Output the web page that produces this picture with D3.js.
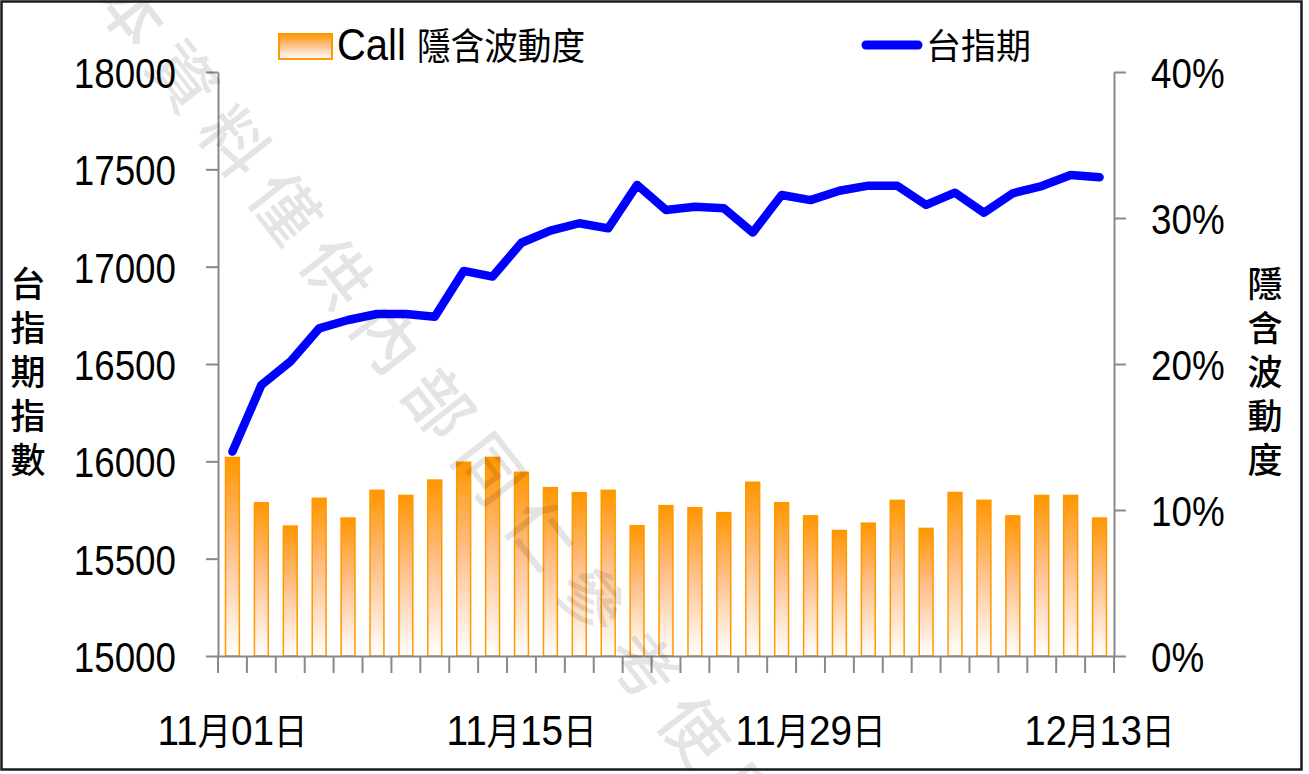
<!DOCTYPE html>
<html>
<head>
<meta charset="utf-8">
<script src="https://cdn.jsdelivr.net/npm/d3@7"></script>
<style>
  html, body { margin: 0; padding: 0; background: #fff; }
  svg { display: block; }
</style>
</head>
<body>
<div id="chart"></div>
<script>
// trading days, 2023-11-01 .. 2023-12-13
const dates = [
    "11月01日", "11月02日", "11月03日", "11月06日", "11月07日", "11月08日", "11月09日", "11月10日",
    "11月13日", "11月14日", "11月15日", "11月16日", "11月17日", "11月20日", "11月21日", "11月22日",
    "11月23日", "11月24日", "11月27日", "11月28日", "11月29日", "11月30日", "12月01日", "12月04日",
    "12月05日", "12月06日", "12月07日", "12月08日", "12月11日", "12月12日", "12月13日"
];
const shownDates = ["11月01日", "11月15日", "11月29日", "12月13日"];

// 台指期 (left axis)
const futures = [
    16050, 16392, 16512, 16683, 16726, 16757, 16757, 16743, 16978, 16949, 17123,
    17185, 17223, 17197, 17420, 17291, 17308, 17300, 17175, 17368, 17342,
    17390, 17416, 17416, 17317, 17380, 17277, 17377, 17414, 17471, 17459
];

// Call 隱含波動度 in % (right axis)
const callIV = [
    13.6, 10.5, 8.9, 10.8, 9.45, 11.35, 11.0, 12.05, 13.27, 13.6, 12.58,
    11.53, 11.19, 11.35, 8.92, 10.3, 10.16, 9.82, 11.9, 10.5, 9.6,
    8.6, 9.1, 10.66, 8.74, 11.2, 10.66, 9.6, 11.0, 11.0, 9.45
];

const leftTicks = [15000, 15500, 16000, 16500, 17000, 17500, 18000];
const rightTicks = [0, 10, 20, 30, 40];

const width = 1309;
const height = 774;
const marginLeft = 218;
const marginRight = 195;
const marginTop = 72;
const marginBottom = 118;

const LATIN = "'Liberation Sans Narrow', 'Liberation Sans', sans-serif";
const CJK = "'Noto Sans CJK TC', 'Noto Sans CJK SC', sans-serif";
const axisColor = "#898989";
const barColor = "#ff9900";
const lineColor = "#0000ff";
const squeeze = 0.855; // the original digits are narrower than Liberation Sans

const svg = d3.select("#chart")
    .append("svg")
    .attr("width", width)
    .attr("height", height)
    .attr("viewBox", [0, 0, width, height]);

const defs = svg.append("defs");
const grad = defs.append("linearGradient")
    .attr("id", "barGrad")
    .attr("x1", 0).attr("y1", 0).attr("x2", 0).attr("y2", 1);
grad.append("stop").attr("offset", "0%").attr("stop-color", "#ff9600");
grad.append("stop").attr("offset", "45%").attr("stop-color", "#ffbf88");
grad.append("stop").attr("offset", "100%").attr("stop-color", "#ffffff");

const x = d3.scaleBand(dates, [marginLeft, width - marginRight]);
const yL = d3.scaleLinear([15000, 18000], [height - marginBottom, marginTop]);
const yR = d3.scaleLinear([0, 40], [height - marginBottom, marginTop]);

// writes a string as tspans, digits/latin and CJK in different sizes,
// then squeezes the whole text to a given width
const mixedText = (text, str, latinSize, cjkSize, fitWidth) => {
    const runs = str.match(/[\u2E80-\u9FFF\uF900-\uFAFF]+|[^\u2E80-\u9FFF\uF900-\uFAFF]+/g);
    runs.forEach(r => {
        const isCjk = /[\u2E80-\u9FFF]/.test(r);
        text.append("tspan")
            .attr("font-family", isCjk ? CJK : LATIN)
            .attr("font-size", isCjk ? cjkSize : latinSize)
            .text(r);
    });
    if (fitWidth) {
        text.attr("textLength", fitWidth).attr("lengthAdjust", "spacingAndGlyphs");
    }
};

// bars
const barW = x.bandwidth() * 0.48;
svg.append("g")
    .selectAll("rect")
    .data(callIV)
    .join("rect")
    .attr("x", (d, i) => x(dates[i]) + (x.bandwidth() - barW) / 2)
    .attr("y", d => yR(d))
    .attr("width", barW)
    .attr("height", d => yR(0) - yR(d))
    .attr("fill", "url(#barGrad)")
    .attr("stroke", barColor)
    .attr("stroke-width", 1.5);

// axes
const axisL = svg.append("g")
    .attr("transform", `translate(${marginLeft},0)`)
    .call(d3.axisLeft(yL).tickValues(leftTicks).tickFormat(d3.format("d"))
        .tickSize(12).tickSizeOuter(0).tickPadding(30));
const axisR = svg.append("g")
    .attr("transform", `translate(${width - marginRight},0)`)
    .call(d3.axisRight(yR).tickValues(rightTicks).tickFormat(d => d + "%")
        .tickSize(12).tickSizeOuter(0).tickPadding(25));
const axisB = svg.append("g")
    .attr("transform", `translate(0,${height - marginBottom})`)
    .call(d3.axisBottom(x).tickValues(shownDates).tickSize(0).tickPadding(58));

[axisL, axisR, axisB].forEach(a => {
    a.select(".domain").attr("stroke", axisColor).attr("stroke-width", 2);
    a.selectAll(".tick line").attr("stroke", axisColor).attr("stroke-width", 2);
    a.selectAll(".tick text").attr("fill", "#000").attr("font-family", LATIN).attr("font-size", 43);
});
[axisL, axisR].forEach(a => {
    a.selectAll(".tick text")
        .attr("dy", "0.36em")
        .each(function () {
            d3.select(this)
                .attr("textLength", this.getComputedTextLength() * squeeze)
                .attr("lengthAdjust", "spacingAndGlyphs");
        });
});

axisB.selectAll(".tick text").each(function (d) {
    const t = d3.select(this).text("");
    mixedText(t, d, 43, 37, 150);
});

// category boundary ticks on the bottom axis
svg.append("g")
    .selectAll("line")
    .data(dates.map(d => x(d)).concat([x.range()[1]]))
    .join("line")
    .attr("x1", d => d).attr("x2", d => d)
    .attr("y1", yL(15000)).attr("y2", yL(15000) + 17)
    .attr("stroke", axisColor)
    .attr("stroke-width", 2);

// line
const line = d3.line()
    .x((d, i) => x(dates[i]) + x.bandwidth() / 2)
    .y(d => yL(d));

svg.append("path")
    .datum(futures)
    .attr("fill", "none")
    .attr("stroke", lineColor)
    .attr("stroke-width", 8.5)
    .attr("stroke-linejoin", "round")
    .attr("stroke-linecap", "round")
    .attr("d", line);

// axis titles, written top to bottom
const vTitle = (cx, str) => {
    svg.append("text")
        .attr("x", cx)
        .attr("y", 266)
        .attr("font-family", CJK)
        .attr("font-size", 35)
        .attr("font-weight", 500)
        .attr("letter-spacing", 9)
        .attr("fill", "#000")
        .style("writing-mode", "vertical-rl")
        .style("text-orientation", "upright")
        .text(str);
};
vTitle(28, "台指期指數");
vTitle(1265, "隱含波動度");

// legend
const legend = svg.append("g");
legend.append("rect")
    .attr("x", 279).attr("y", 34).attr("width", 53).attr("height", 25)
    .attr("fill", "url(#barGrad)")
    .attr("stroke", barColor)
    .attr("stroke-width", 2);
const lt1 = legend.append("text").attr("x", 337).attr("y", 60).attr("fill", "#000");
mixedText(lt1, "Call 隱含波動度", 44, 37, 248);

legend.append("line")
    .attr("x1", 866).attr("x2", 918).attr("y1", 45).attr("y2", 45)
    .attr("stroke", lineColor)
    .attr("stroke-width", 9)
    .attr("stroke-linecap", "round");
legend.append("text")
    .attr("x", 926).attr("y", 59)
    .attr("font-family", CJK)
    .attr("font-size", 35)
    .attr("fill", "#000")
    .text("台指期");

// watermark
svg.append("text")
    .attr("transform", "translate(131,12) rotate(52)")
    .attr("x", -33)
    .attr("dy", "0.35em")
    .attr("font-family", CJK)
    .attr("font-size", 66)
    .attr("font-weight", 500)
    .attr("letter-spacing", 17)
    .attr("fill", "#000")
    .attr("opacity", 0.1)
    .text("本資料僅供內部同仁參考使用");

// frame
svg.append("rect")
    .attr("x", 1.5).attr("y", 1.5)
    .attr("width", 1300).attr("height", 768)
    .attr("fill", "none")
    .attr("stroke", "#1a1a1a")
    .attr("stroke-width", 2.5);
</script>
</body>
</html>
